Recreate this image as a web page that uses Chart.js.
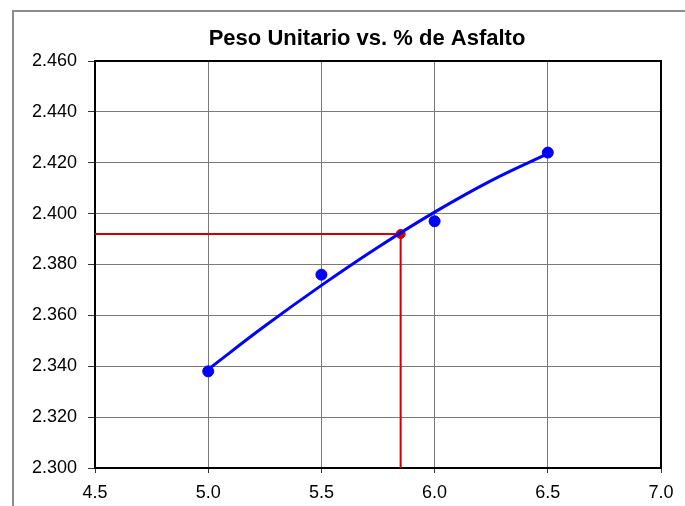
<!DOCTYPE html>
<html>
<head>
<meta charset="utf-8">
<script src="https://cdn.jsdelivr.net/npm/chart.js@4"></script>
<style>
html,body{margin:0;padding:0;background:#fff;}
#wrap{width:685px;height:506px;position:relative;}
</style>
</head>
<body>
<div id="wrap"><canvas id="c" width="685" height="506"></canvas></div>
<script>
// Measured points
const pointsX = [5.0, 5.5, 6.0, 6.5];
const pointsY = [2.338, 2.376, 2.397, 2.424];
// Fitted curve
const curveX = [5.0, 5.25, 5.5, 5.75, 6.0, 6.25, 6.5];
const curveY = [2.3388, 2.3558, 2.3718, 2.3868, 2.4006, 2.4130, 2.4236];
// Optimum asphalt content marker
const optX = 5.85;
const optY = 2.392;
const xRange = [4.5, 7.0];
const yRange = [2.300, 2.460];
const titleText = 'Peso Unitario vs. % de Asfalto';

const toXY = (xs, ys) => xs.map((x, i) => ({x: x, y: ys[i]}));

const decor = {
  id: 'decor',
  beforeDraw(chart) {
    const ctx = chart.ctx;
    ctx.save();
    ctx.fillStyle = '#fff';
    ctx.fillRect(0, 0, chart.width, chart.height);
    ctx.strokeStyle = '#8c8c8c';
    ctx.lineWidth = 2;
    ctx.beginPath();
    ctx.moveTo(13, chart.height);
    ctx.lineTo(13, 11);
    ctx.lineTo(chart.width, 11);
    ctx.stroke();
    ctx.fillStyle = '#000';
    ctx.font = 'bold 22px "Liberation Sans", Arial, sans-serif';
    ctx.textAlign = 'center';
    ctx.textBaseline = 'alphabetic';
    ctx.fillText(titleText, 367, 45);
    ctx.restore();
  },
  beforeDatasetsDraw(chart) {
    const a = chart.chartArea, ctx = chart.ctx;
    ctx.save();
    ctx.strokeStyle = '#000';
    ctx.lineWidth = 2;
    ctx.strokeRect(a.left, a.top, a.right - a.left, a.bottom - a.top);
    ctx.restore();
  }
};

const tickFont = {family: '"Liberation Sans", Arial, sans-serif', size: 18};

new Chart(document.getElementById('c'), {
  type: 'scatter',
  data: {
    datasets: [
      {
        label: 'Curva',
        type: 'line',
        data: toXY(curveX, curveY),
        borderColor: '#0000ff',
        borderWidth: 3,
        pointRadius: 0,
        fill: false,
        tension: 0.4,
        order: 1
      },
      {
        label: 'Puntos',
        data: toXY(pointsX, pointsY),
        backgroundColor: '#0000ff',
        borderColor: '#0000ff',
        pointRadius: 5.5,
        showLine: false,
        order: 0
      },
      {
        label: 'Horizontal',
        type: 'line',
        data: [{x: xRange[0], y: optY}, {x: optX, y: optY}],
        borderColor: '#cc0000',
        borderWidth: 2,
        pointRadius: 0,
        fill: false,
        order: 3
      },
      {
        label: 'Vertical',
        type: 'line',
        data: [{x: optX, y: optY}, {x: optX, y: yRange[0]}],
        borderColor: '#cc0000',
        borderWidth: 2,
        pointRadius: 0,
        fill: false,
        order: 3
      },
      {
        label: 'Optimo',
        data: [{x: optX, y: optY}],
        backgroundColor: '#cc0000',
        borderColor: '#cc0000',
        pointRadius: 4.5,
        showLine: false,
        order: 2
      }
    ]
  },
  options: {
    responsive: false,
    animation: false,
    devicePixelRatio: 1,
    layout: {padding: {top: 61, right: 24, left: 0, bottom: 0}},
    plugins: {legend: {display: false}, title: {display: false}, tooltip: {enabled: false}},
    scales: {
      x: {
        type: 'linear',
        min: xRange[0], max: xRange[1],
        afterFit(s) { s.height = 38; },
        border: {display: false},
        grid: {color: '#7a7a7a', lineWidth: 1, tickLength: 5, tickColor: '#333'},
        ticks: {stepSize: 0.5, color: '#000', font: tickFont, padding: 9, maxRotation: 0,
          callback: v => Number(v).toFixed(1)}
      },
      y: {
        type: 'linear',
        min: yRange[0], max: yRange[1],
        afterFit(s) { s.width = 95; },
        border: {display: false},
        grid: {color: '#7a7a7a', lineWidth: 1, tickLength: 7, tickColor: '#333'},
        ticks: {stepSize: 0.02, color: '#000', font: tickFont, padding: 11,
          callback: v => Number(v).toFixed(3)}
      }
    }
  },
  plugins: [decor]
});
</script>
</body>
</html>
